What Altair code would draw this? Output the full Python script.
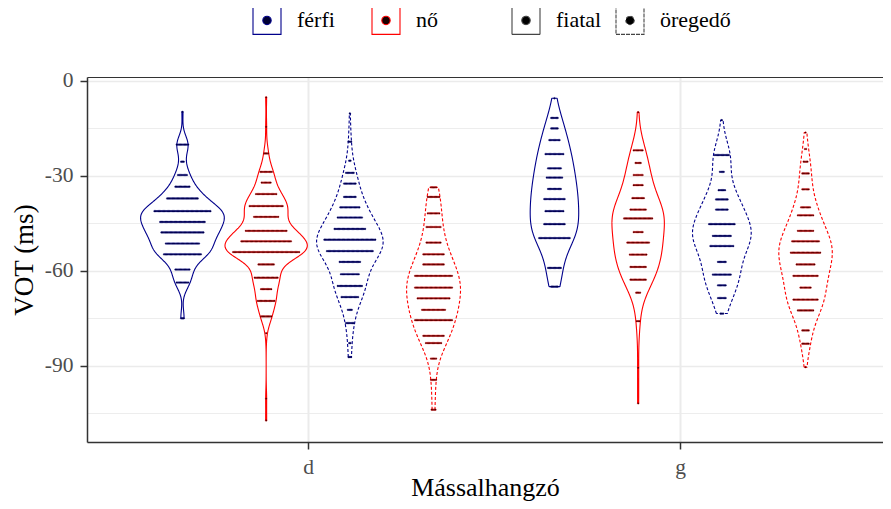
import json
import numpy as np
import pandas as pd
import altair as alt

consonants = ["d", "g"]
genders = ["férfi", "nő"]
ages = ["fiatal", "öregedő"]
gender_colors = ["#00008B", "#FF0000"]
gender_dot_colors = ["#000033", "#1a0000"]

# dot rows of each dot plot: VOT (ms) of the row and number of dots in it
ffd_vot = [-9.9, -20.2, -25.6, -29.8, -33.5, -37.2, -41.2, -44.6, -47.9, -51.4, -54.8, -59.6, -63.7, -75.0]
ffd_n = [1, 10, 3, 8, 12, 25, 45, 36, 34, 27, 30, 12, 10, 3]

nfd_vot = [-5.3, -14.6, -23.0, -28.8, -32.2, -35.8, -39.6, -43.0, -47.4, -50.7, -54.1, -58.0, -62.2,
           -65.8, -69.5, -74.4, -79.7, -100.3, -107.2]
nfd_n = [1, 1, 4, 10, 8, 17, 27, 20, 33, 40, 53, 13, 19, 9, 14, 9, 1, 1, 1]

fod_vot = [-10.4, -19.3, -25.3, -29.1, -32.5, -36.7, -40.0, -43.2, -46.8, -50.2, -53.8, -57.2, -61.1,
           -64.8, -68.3, -72.3, -76.5, -82.8, -87.2]
fod_n = [1, 3, 2, 7, 10, 10, 16, 20, 25, 41, 37, 17, 15, 20, 14, 4, 7, 2, 3]

nod_vot = [-33.7, -36.7, -41.9, -46.2, -51.1, -54.8, -58.0, -61.6, -65.3, -68.7, -72.3, -75.6, -80.5,
           -82.8, -87.7, -94.4, -103.8]
nod_n = [5, 10, 10, 12, 12, 17, 17, 30, 30, 26, 19, 30, 17, 13, 5, 5, 4]

ffg_vot = [-5.6, -11.8, -15.1, -18.8, -23.2, -27.7, -30.6, -34.2, -37.4, -41.2, -45.3, -49.7, -59.1, -65.0]
ffg_n = [1, 6, 6, 9, 15, 11, 13, 11, 17, 15, 17, 25, 11, 6]

nfg_vot = [-10.0, -22.0, -26.0, -29.8, -33.0, -37.1, -40.7, -43.5, -47.8, -51.1, -54.9, -58.8, -62.8,
           -66.9, -75.9, -90.6, -101.8]
nfg_n = [1, 8, 5, 8, 8, 10, 13, 23, 8, 18, 14, 13, 13, 4, 3, 1, 1]

fog_vot = [-12.5, -23.5, -28.8, -34.6, -37.5, -40.7, -45.3, -49.0, -52.2, -57.2, -61.2, -64.6, -68.6, -73.5]
fog_n = [1, 12, 4, 6, 10, 10, 21, 15, 19, 7, 15, 7, 7, 3]

nog_vot = [-16.4, -21.6, -25.6, -29.3, -34.3, -40.0, -42.5, -47.4, -50.7, -54.3, -58.0, -61.6, -65.3,
           -69.1, -72.5, -78.8, -83.0, -90.4]
nog_n = [1, 2, 4, 6, 6, 8, 13, 13, 22, 24, 15, 20, 9, 20, 13, 6, 6, 1]

groups = [
    ("d", "férfi", "fiatal", ffd_vot, ffd_n),
    ("d", "nő", "fiatal", nfd_vot, nfd_n),
    ("d", "férfi", "öregedő", fod_vot, fod_n),
    ("d", "nő", "öregedő", nod_vot, nod_n),
    ("g", "férfi", "fiatal", ffg_vot, ffg_n),
    ("g", "nő", "fiatal", nfg_vot, nfg_n),
    ("g", "férfi", "öregedő", fog_vot, fog_n),
    ("g", "nő", "öregedő", nog_vot, nog_n),
]

DODGE = 0.225          # width of one violin (0.9 / 4)
DOT_W = 0.003415       # dot diameter in x units
ADJUST = 1.25          # kernel bandwidth adjustment
NGRID = 300


def nrd0(x):
    sd = x.std(ddof=1)
    q75, q25 = np.percentile(x, [75, 25])
    lo = min(sd, (q75 - q25) / 1.34)
    if lo <= 0:
        lo = sd
    return 0.9 * lo * len(x) ** -0.2


dot_rows = []
dens_rows = []
for cons, gen, age, vots, ns in groups:
    ci = consonants.index(cons) + 1
    gi = ages.index(age) * 2 + genders.index(gen)
    center = ci + (gi - 1.5) * DODGE
    grp = f"{cons}-{gen}-{age}"
    col = gender_colors[genders.index(gen)]
    dcol = gender_dot_colors[genders.index(gen)]
    raw = np.repeat(np.array(vots, float), ns)
    for v in raw:
        dot_rows.append({"grp": grp, "gcol": col, "dcol": dcol, "center": center, "vot": float(v)})
    bw = nrd0(raw) * ADJUST
    grid = np.linspace(raw.min(), raw.max(), NGRID)
    d = np.exp(-0.5 * ((grid[:, None] - raw[None, :]) / bw) ** 2).sum(1) / (len(raw) * bw * np.sqrt(2 * np.pi))
    for i, (g, dv) in enumerate(zip(grid, d)):
        dens_rows.append({"grp": grp, "gcol": col, "age": age, "center": center,
                          "vot": float(g), "dens": float(dv), "i": i})

dots = pd.DataFrame(dot_rows)
dens = pd.DataFrame(dens_rows)
gmax = dens["dens"].max()
dens["hw"] = dens["dens"] / gmax * DODGE / 2
dens["left"] = dens["center"] - dens["hw"]
dens["right"] = dens["center"] + dens["hw"]

# closed outline: down the left side, up the right side, back to the start
left_side = dens.assign(xo=dens["left"], k=dens["i"])
right_side = dens.assign(xo=dens["right"], k=2 * NGRID - 1 - dens["i"])
close = dens[dens["i"] == 0].assign(xo=lambda t: t["left"], k=2 * NGRID)
outline = pd.concat([left_side, right_side, close], ignore_index=True)[["grp", "gcol", "age", "vot", "xo", "k"]]

FONT = "Liberation Serif"
xscale = alt.Scale(domain=[0.4059, 2.5457], nice=False, zero=False)
yscale = alt.Scale(domain=[-114.0, 1.105], nice=False, zero=False)

major = "datum.value % 30 === 0"
yaxis = alt.Axis(
    values=list(range(-105, 1, 15)),
    labelExpr=f"{major} ? '' + datum.value : ''",
    tickOpacity={"condition": {"test": major, "value": 1}, "value": 0},
    gridWidth={"condition": {"test": major, "value": 1.7}, "value": 0.9},
    gridColor="#EBEBEB", domainColor="#333333", domainWidth=1.5,
    tickColor="#333333", tickWidth=1.5, tickSize=7, labelPadding=7,
    labelColor="#4D4D4D", labelFontSize=21.5, labelFont=FONT,
    titleFont=FONT, titleFontSize=27, titleFontWeight="normal", titleColor="black", titlePadding=6,
)
xaxis = alt.Axis(
    orient="bottom",
    values=[1, 2],
    labelExpr=f"{json.dumps(consonants)}[datum.value - 1]",
    gridColor="#EBEBEB", gridWidth=2, domainColor="#333333", domainWidth=1.5,
    tickColor="#333333", tickWidth=1.5, tickSize=7, labelPadding=7,
    labelColor="#4D4D4D", labelFontSize=21.5, labelFont=FONT,
    titleFont=FONT, titleFontSize=26, titleFontWeight="normal", titleColor="black",
    titleBaseline="alphabetic", titleY=53,
)
top_border = alt.Axis(orient="top", labels=False, ticks=False, grid=False, domainColor="#333333", domainWidth=1.2)

Y = alt.Y("vot:Q", scale=yscale, axis=yaxis, title="VOT (ms)")

fills = alt.Chart(dens).mark_area(orient="horizontal", fill="white", strokeWidth=0).encode(
    y=Y,
    x=alt.X("left:Q", scale=xscale, axis=xaxis, title="Mássalhangzó", stack=None),
    x2="right:Q",
    detail="grp:N",
    order=alt.Order("vot:Q"),
)

border = alt.Chart(dens).mark_point(opacity=0, size=0).encode(
    y=Y,
    x=alt.X("center:Q", scale=xscale, axis=top_border, title=None),
)


def outline_layer(age, dash):
    return alt.Chart(outline).transform_filter(alt.datum.age == age).mark_line(
        strokeWidth=1.1, strokeDash=dash, strokeJoin="round"
    ).encode(
        y=Y,
        x=alt.X("xo:Q", scale=xscale, axis=None),
        stroke=alt.Stroke("gcol:N", scale=None),
        detail="grp:N",
        order=alt.Order("k:Q"),
    )


outline_young = outline_layer(ages[0], [1, 0])
outline_old = outline_layer(ages[1], [3, 2])

dotlayer = alt.Chart(dots).transform_window(
    idx="row_number()", groupby=["grp", "vot"]
).transform_joinaggregate(
    n="count()", groupby=["grp", "vot"]
).transform_calculate(
    xd=f"datum.center + (datum.idx - (datum.n + 1) / 2) * {DOT_W}"
).mark_circle(size=3.0, opacity=1, strokeWidth=0.35).encode(
    x=alt.X("xd:Q", scale=xscale, axis=None),
    y=Y,
    fill=alt.Fill("dcol:N", scale=None),
    stroke=alt.Stroke("gcol:N", scale=None),
)

SYMBOL = "M-1,-1H1V1H-1V-1V1H1V-1H-1Z M0.3,0A0.3,0.3,0,1,1,-0.3,0A0.3,0.3,0,1,1,0.3,0Z"
gender_df = pd.DataFrame({"gender": genders})
age_df = pd.DataFrame({"age": ages})


def legend_spec(lx, colpad):
    return alt.Legend(
        title=None, orient="none", legendX=lx, legendY=-72, direction="horizontal",
        symbolType=SYMBOL, symbolSize=784, symbolStrokeWidth=1.1,
        labelFont=FONT, labelFontSize=22, labelColor="black", labelOffset=15, columnPadding=colpad, padding=0)


gender_legend = alt.Chart(gender_df).mark_point(filled=True, size=0, strokeWidth=1.1, opacity=1).encode(
    x=alt.value(0), y=alt.value(0),
    fill=alt.Fill("gender:N", scale=alt.Scale(domain=genders, range=gender_dot_colors), legend=legend_spec(165, 34)),
    stroke=alt.Stroke("gender:N", scale=alt.Scale(domain=genders, range=gender_colors), legend=legend_spec(165, 34)),
)

age_legend = alt.Chart(age_df).mark_line(stroke="#444444", fill="black", strokeWidth=1.1, opacity=1).encode(
    x=alt.value(0), y=alt.value(0),
    strokeDash=alt.StrokeDash("age:N", scale=alt.Scale(domain=ages, range=[[1, 0], [3, 2]]), legend=legend_spec(424, 11)),
)

chart = alt.layer(fills, border, outline_young, outline_old, dotlayer, gender_legend, age_legend).resolve_axis(
    x="independent"
).properties(
    width=796, height=365,
    autosize=alt.AutoSizeParams(type="none"),
    padding={"left": 79, "top": 69, "right": 0, "bottom": 59},
    background="white",
).configure_view(strokeWidth=0)

chart.save("out.html", embed_options={"renderer": "svg", "actions": False})
